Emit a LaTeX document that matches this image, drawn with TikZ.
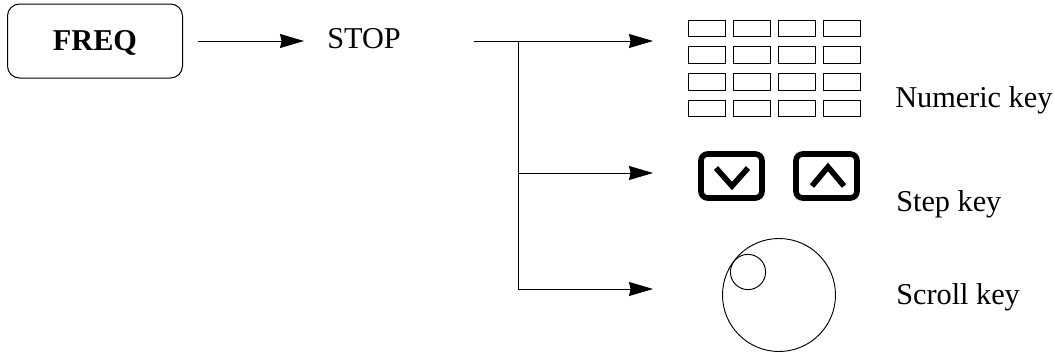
\documentclass[tikz,border=0pt]{standalone}
\usepackage{fontspec}
\setmainfont{Liberation Serif}
\usetikzlibrary{arrows.meta}
\tikzstyle{funckey} = [rectangle, rounded corners=9pt, minimum width=131.25pt, minimum height=55.5pt, text height=13.5pt, text depth=0pt, draw=black, line width=0.75pt, font=\fontsize{22.7}{26}\selectfont\bfseries]
\tikzstyle{lbl} = [anchor=base west, inner sep=0pt, font=\fontsize{22.7}{26}\selectfont]
\tikzstyle{numkey} = [rectangle, minimum width=27.75pt, minimum height=12.4pt, inner sep=0pt, draw=black, line width=0.7pt]
\tikzstyle{stepkey} = [rectangle, rounded corners=5pt, minimum width=45.75pt, minimum height=33pt, inner sep=0pt, draw=black, line width=4.2pt]
\tikzstyle{chev} = [line width=4.2pt, draw=black]
\tikzstyle{wheel} = [circle, inner sep=0pt, draw=black, line width=0.7pt]
\tikzstyle{arrow} = [line width=0.7pt, -{Stealth[length=18pt,width=10.5pt,inset=1.2pt]}]
\tikzstyle{branch} = [line width=0.7pt]
\begin{document}
\begin{tikzpicture}[x=0.75pt, y=-0.75pt]
\useasboundingbox (0,0) rectangle (1054,354);
\node (freq) [funckey] at (95,41) {FREQ};
\node (stop) [lbl] at (327,48) {STOP};
\coordinate (a1) at (198,41);
\coordinate (a2) at (304,41);
\coordinate (b0) at (474,41);
\coordinate (b1) at (518,41);
\coordinate (b2) at (518,173);
\coordinate (b3) at (518,289);
\coordinate (e1) at (653,41);
\coordinate (e2) at (653,173);
\coordinate (e3) at (653,289);
\draw [arrow] (a1) -- (a2);
\draw [arrow] (b0) -- (e1);
\draw [branch] (b1) -- (b3);
\draw [arrow] (b2) -- (e2);
\draw [arrow] (b3) -- (e3);
% numeric keys
\foreach \r in {0,1,2,3}
  \foreach \c in {0,1,2,3}
    \node (num\r\c) [numkey] at (706.5+45.3*\c,28.3+26.7*\r) {};
\node (numlbl) [lbl] at (895,107) {Numeric key};
% step keys
\node (down) [stepkey] at (731.5,176) {};
\node (up) [stepkey] at (826.5,176) {};
\draw [chev] (716,168) -- (732,186) -- (748,168);
\draw [chev] (812,186) -- (828,167) -- (844,186);
\node (steplbl) [lbl] at (896,211) {Step key};
% scroll key
\node (knob) [wheel, minimum size=84.75pt] at (779,295) {};
\node (dimple) [wheel, minimum size=26.4pt] at (748,272) {};
\node (scrolllbl) [lbl] at (896,304) {Scroll key};
\end{tikzpicture}
\end{document}
